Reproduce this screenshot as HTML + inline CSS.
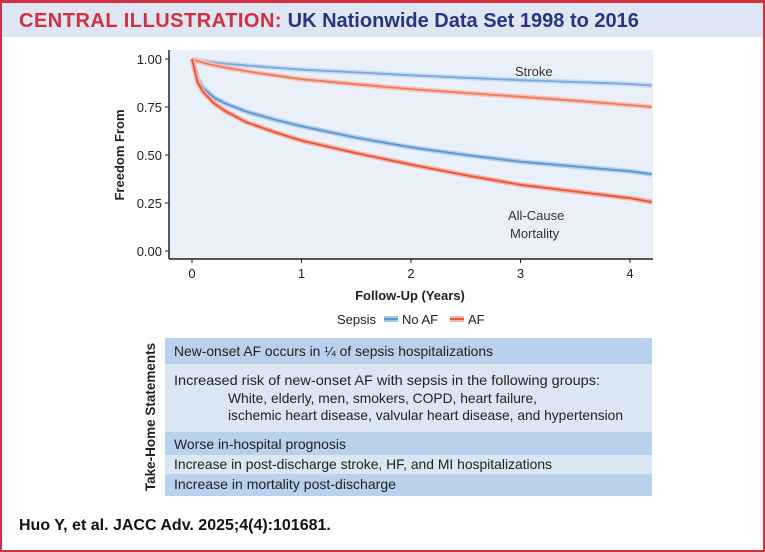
<!DOCTYPE html>
<html><head><meta charset="utf-8"><style>
body{margin:0;width:765px;height:551px;overflow:hidden;background:#fff;font-family:"Liberation Sans",sans-serif}
#frame{position:absolute;left:0;top:0;width:761px;height:547px;border:2px solid #d2303f;border-top-width:3px}
</style></head><body>
<div id="frame"></div>
<svg width="765" height="551" style="position:absolute;left:0;top:0">
<rect x="2" y="3" width="761" height="34" fill="#dde6f2"/>
<text x="19" y="27" font-size="20" font-weight="bold"><tspan fill="#d2303f" letter-spacing="0.5">CENTRAL ILLUSTRATION:</tspan><tspan fill="#2a3580"> UK Nationwide Data Set 1998 to 2016</tspan></text>
<rect x="169" y="50" width="484" height="209" fill="#e9f0f9"/>
<g id="axes" font-size="13" fill="#222"></g>
<g id="series"></g>
<text x="515" y="76" font-size="13" fill="#333">Stroke</text>
<text x="508" y="220" font-size="13" fill="#333">All-Cause</text>
<text x="510" y="238" font-size="13" fill="#333">Mortality</text>
<text x="410" y="300" text-anchor="middle" font-size="13" font-weight="bold" fill="#222">Follow-Up (Years)</text>
<text x="124" y="155" text-anchor="middle" font-size="13" font-weight="bold" fill="#222" transform="rotate(-90 124 155)">Freedom From</text>
<g font-size="13" fill="#222">
<text x="337" y="324">Sepsis</text>
<rect x="384" y="316" width="14" height="6" fill="#a9c6e6"/>
<line x1="384" y1="319" x2="398" y2="319" stroke="#5e96cf" stroke-width="2"/>
<text x="402" y="324">No AF</text>
<rect x="450" y="316" width="14" height="6" fill="#f6b9a8"/>
<line x1="450" y1="319" x2="464" y2="319" stroke="#e8563e" stroke-width="2"/>
<text x="468" y="324">AF</text>
</g>
<g font-size="14" fill="#222">
<rect x="165" y="338" width="487" height="26" fill="#b9d1ec"/>
<rect x="165" y="364" width="487" height="68" fill="#dbe6f3"/>
<rect x="165" y="432" width="487" height="23" fill="#b9d1ec"/>
<rect x="165" y="455" width="487" height="19" fill="#dbe6f3"/>
<rect x="165" y="474" width="487" height="22" fill="#b9d1ec"/>
<text x="174" y="356" textLength="319" lengthAdjust="spacingAndGlyphs">New-onset AF occurs in ¼ of sepsis hospitalizations</text>
<text x="174" y="385" textLength="426" lengthAdjust="spacingAndGlyphs">Increased risk of new-onset AF with sepsis in the following groups:</text>
<text x="228" y="403" textLength="309" lengthAdjust="spacingAndGlyphs">White, elderly, men, smokers, COPD, heart failure,</text>
<text x="228" y="420" textLength="395" lengthAdjust="spacingAndGlyphs">ischemic heart disease, valvular heart disease, and hypertension</text>
<text x="174" y="449" textLength="172" lengthAdjust="spacingAndGlyphs">Worse in-hospital prognosis</text>
<text x="174" y="469" textLength="378" lengthAdjust="spacingAndGlyphs">Increase in post-discharge stroke, HF, and MI hospitalizations</text>
<text x="174" y="489" textLength="222" lengthAdjust="spacingAndGlyphs">Increase in mortality post-discharge</text>
<text x="155" y="417" text-anchor="middle" font-size="13.5" font-weight="bold" transform="rotate(-90 155 417)">Take-Home Statements</text>
</g>
<text x="19" y="530" font-size="16" font-weight="bold" fill="#111">Huo Y, et al. JACC Adv. 2025;4(4):101681.</text>
</svg>
<script>
const times=[0,0.05,0.1,0.2,0.3,0.5,0.75,1,1.5,2,2.5,3,3.5,4,4.2];
const strokeNoAF=[1,.995,.99,.982,.976,.966,.955,.945,.93,.915,.902,.89,.88,.87,.862];
const strokeAF=[1,.99,.981,.967,.956,.936,.915,.895,.868,.843,.823,.803,.783,.76,.75];
const mortNoAF=[1,.9,.85,.8,.77,.725,.685,.65,.59,.54,.5,.465,.44,.415,.40];
const mortAF=[1,.88,.83,.77,.73,.67,.62,.575,.51,.45,.395,.345,.31,.275,.255];
const xTicks=[0,1,2,3,4];
const yTicks=[0,0.25,0.5,0.75,1];
const yTickLabels=["0.00","0.25","0.50","0.75","1.00"];
const NS="http://www.w3.org/2000/svg";
const X=t=>192+t*109.5, Y=v=>251-v*192;
const ax=document.getElementById('axes');
function mk(tag,at,parent){const e=document.createElementNS(NS,tag);for(const k in at)e.setAttribute(k,at[k]);parent.appendChild(e);return e;}
const yl=mk('line',{x1:169,y1:50,x2:169,y2:259,stroke:'#222','stroke-width':1.5},ax);


const xl=mk('line',{x1:169,y1:259,x2:653,y2:259,stroke:'#222','stroke-width':1.5},ax);


yTicks.forEach((v,i)=>{mk('line',{x1:165,x2:169,y1:Y(v),y2:Y(v),stroke:'#222'},ax);
 const t=mk('text',{x:162,y:Y(v)+5,'text-anchor':'end'},ax);t.textContent=yTickLabels[i];
 
 });
xTicks.forEach(v=>{mk('line',{x1:X(v),x2:X(v),y1:259,y2:263,stroke:'#222'},ax);
 const t=mk('text',{x:X(v),y:278,'text-anchor':'middle'},ax);t.textContent=v;
 
 });
const sg=document.getElementById('series');
function draw(vals,color,band,name){
 const d=vals.map((v,i)=>(i?'L':'M')+X(times[i]).toFixed(1)+','+Y(v).toFixed(1)).join('');
 mk('path',{d:d,fill:'none',stroke:band,'stroke-width':5,'stroke-linejoin':'round'},sg);
 const p=mk('path',{d:d,fill:'none',stroke:color,'stroke-width':1.8,'stroke-linejoin':'round'},sg);
 
 
}
draw(strokeNoAF,'#7aa8da','#c6daf0','stroke-no-af-line');
draw(strokeAF,'#ec7a62','#f7c3b5','stroke-af-line');
draw(mortNoAF,'#5e96cf','#b3cdea','mortality-no-af-line');
draw(mortAF,'#e8523b','#f5b2a2','mortality-af-line');
</script>
</body></html>
